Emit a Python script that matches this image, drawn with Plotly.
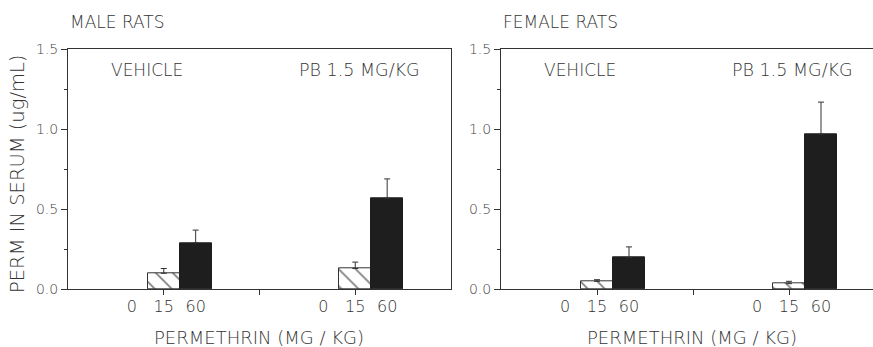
import plotly.graph_objects as go

# ---- data ----
dose_labels = ["0", "15", "60", "0", "15", "60"]
slot_pos = [0, 1, 2, 6, 7, 8]          # category slots (vehicle group, PB group)
separator_pos = [1, 4, 7]

male_hatched = [0.10, 0.13]            # 15 mg/kg: vehicle, PB
male_hatched_err = [0.03, 0.04]
male_solid = [0.29, 0.57]              # 60 mg/kg: vehicle, PB
male_solid_err = [0.08, 0.12]
male_zero = [0.0, 0.0]                 # 0 mg/kg

female_hatched = [0.05, 0.035]
female_hatched_err = [0.01, 0.015]
female_solid = [0.20, 0.97]
female_solid_err = [0.065, 0.20]
female_zero = [0.0, 0.0]

panel_titles = ["MALE RATS", "FEMALE RATS"]
group_labels = ["VEHICLE", "PB 1.5 MG/KG"]
x_title = "PERMETHRIN (MG / KG)"
y_title = "PERM IN SERUM (ug/mL)"
y_ticks = [0.0, 0.5, 1.0, 1.5]
y_ticktext = ["0.0", "0.5", "1.0", "1.5"]

FONT = "DejaVu Sans"
W = 200
TXT = "#333333"
LINE = "#333333"

fig = go.Figure()

panels = [
    ("x", "y", male_zero, male_hatched, male_hatched_err, male_solid, male_solid_err),
    ("x2", "y2", female_zero, female_hatched, female_hatched_err, female_solid, female_solid_err),
]
zero_x = [slot_pos[0], slot_pos[3]]
h_x = [slot_pos[1], slot_pos[4]]
s_x = [slot_pos[2], slot_pos[5]]

for xa, ya, z, h, he, s, se in panels:
    fig.add_trace(go.Bar(x=zero_x, y=z, xaxis=xa, yaxis=ya, width=1.0,
                         marker=dict(color="white", line=dict(width=0)),
                         showlegend=False, hoverinfo="skip"))
    fig.add_trace(go.Bar(x=h_x, y=h, xaxis=xa, yaxis=ya, width=1.0,
                         marker=dict(color="white",
                                     line=dict(color=LINE, width=1),
                                     pattern=dict(shape="\\", size=12, solidity=0.14,
                                                  fgcolor="#000", bgcolor="white")),
                         error_y=dict(type="data", symmetric=False, array=he,
                                      arrayminus=[0] * len(he), color=LINE,
                                      thickness=1, width=3),
                         showlegend=False))
    fig.add_trace(go.Bar(x=s_x, y=s, xaxis=xa, yaxis=ya, width=1.0,
                         marker=dict(color="#1e1e1e", line=dict(color="#1e1e1e", width=1)),
                         error_y=dict(type="data", symmetric=False, array=se,
                                      arrayminus=[0] * len(se), color=LINE,
                                      thickness=1, width=3),
                         showlegend=False))

ybot = (347 - 289.3) / 347
ytop = (347 - 49.3) / 347
xd1 = [68 / 873, 451 / 873]
xd2 = [501 / 873, 1.0]
r2 = -2 + 12 * (873 - 501) / 384

common_x = dict(showline=True, linecolor=LINE, linewidth=1, mirror=True,
                showgrid=False, zeroline=False, automargin=False,
                tickmode="array", tickvals=slot_pos, ticktext=dose_labels,
                ticks="", ticklabelstandoff=2,
                tickfont=dict(family=FONT, size=16, color=TXT, weight=W),
                minor=dict(tickmode="array", tickvals=separator_pos, ticks="outside",
                           ticklen=5, tickcolor=LINE, tickwidth=1))
common_y = dict(range=[0, 1.5], domain=[ybot, ytop], showline=True, linecolor=LINE,
                linewidth=1, mirror=True, showgrid=False, zeroline=False,
                automargin=False,
                tickmode="array", tickvals=y_ticks, ticktext=y_ticktext,
                ticks="outside", ticklen=6, tickcolor=LINE,
                minor=dict(dtick=0.25, ticks="outside", ticklen=3, tickcolor=LINE),
                tickfont=dict(family=FONT, size=14, color="#444", weight=W))

fig.update_layout(
    width=873, height=347, margin=dict(l=0, r=0, t=0, b=0),
    plot_bgcolor="white", paper_bgcolor="white", bargap=0,
    xaxis=dict(domain=xd1, range=[-2, 10], anchor="y", **common_x),
    xaxis2=dict(domain=xd2, range=[-2, r2], anchor="y2", **common_x),
    yaxis=dict(anchor="x", **common_y),
    yaxis2=dict(anchor="x2", **common_y),
)

def txt(size):
    return dict(family=FONT, size=size, color=TXT, weight=W)

# y-axis title
fig.add_annotation(text=y_title, xref="paper", yref="paper", x=17 / 873,
                   y=(347 - 174) / 347, textangle=-90, showarrow=False,
                   xanchor="center", yanchor="middle", font=txt(19.5))

for i, (xr, xdom) in enumerate([("x", xd1), ("x2", xd2)]):
    pw = (xdom[1] - xdom[0]) * 873
    fig.add_annotation(text=panel_titles[i], xref="paper", yref="paper",
                       x=xdom[0], y=(347 - 22) / 347, xanchor="left", yanchor="middle",
                       showarrow=False, font=txt(17))
    fig.add_annotation(text=group_labels[0], xref=xr + " domain", yref="paper",
                       x=41 / pw, y=(347 - 70) / 347, xanchor="left", yanchor="middle",
                       showarrow=False, font=txt(17))
    fig.add_annotation(text=group_labels[1], xref=xr + " domain", yref="paper",
                       x=229 / pw, y=(347 - 70) / 347,
                       xanchor="left", yanchor="middle", showarrow=False, font=txt(17.5))
    fig.add_annotation(text=x_title, xref="paper", yref="paper",
                       x=(xdom[0] * 873 + 191) / 873, y=(347 - 337) / 347,
                       xanchor="center", yanchor="middle", showarrow=False, font=txt(18))

fig.write_html("out.html")
